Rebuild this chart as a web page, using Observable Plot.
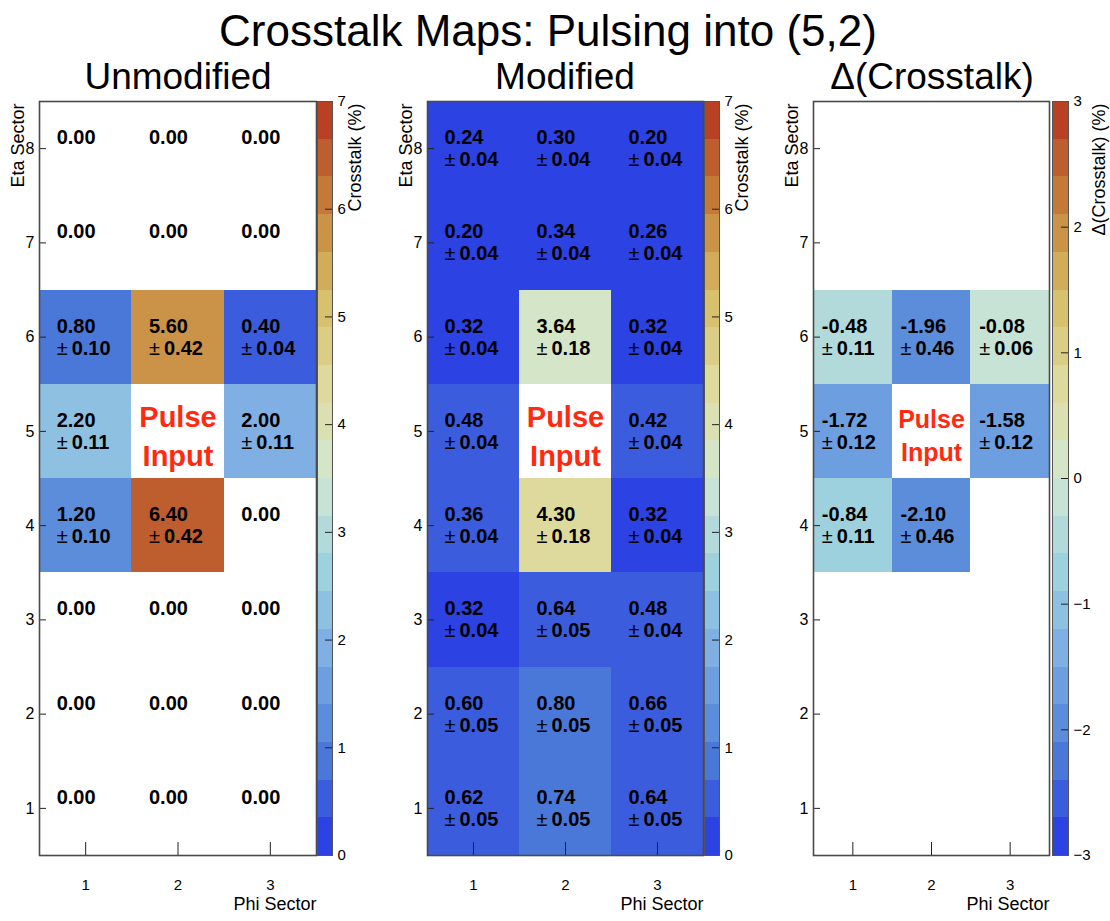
<!DOCTYPE html>
<html><head><meta charset="utf-8">
<script src="https://cdn.jsdelivr.net/npm/d3@7"></script>
<script src="https://cdn.jsdelivr.net/npm/@observablehq/plot@0.6"></script>
<style>
body{margin:0;background:#fff;}
#root{position:relative;width:1110px;height:921px;overflow:hidden;font-family:"Liberation Sans",Arial,sans-serif;color:#000;}
.t{position:absolute;white-space:nowrap;transform:translate(-50%,-50%);line-height:1;}
.abs{position:absolute;}
</style></head><body><div id="root"></div>
<script>
// ---- data ----
const etaSectors = [1, 2, 3, 4, 5, 6, 7, 8];
const phiSectors = [1, 2, 3];
// rows: eta 1..8 ; columns: phi 1..3 ; null = pulse input cell (5,2)
const unmodifiedValues = [[0,0,0],[0,0,0],[0,0,0],[1.20,6.40,0],[2.20,null,2.00],[0.80,5.60,0.40],[0,0,0],[0,0,0]];
const unmodifiedErrors = [[0,0,0],[0,0,0],[0,0,0],[0.10,0.42,0],[0.11,null,0.11],[0.10,0.42,0.04],[0,0,0],[0,0,0]];
const modifiedValues = [[0.62,0.74,0.64],[0.60,0.80,0.66],[0.32,0.64,0.48],[0.36,4.30,0.32],[0.48,null,0.42],[0.32,3.64,0.32],[0.20,0.34,0.26],[0.24,0.30,0.20]];
const modifiedErrors = [[0.05,0.05,0.05],[0.05,0.05,0.05],[0.04,0.05,0.04],[0.04,0.18,0.04],[0.04,null,0.04],[0.04,0.18,0.04],[0.04,0.04,0.04],[0.04,0.04,0.04]];
const deltaValues = [[0,0,0],[0,0,0],[0,0,0],[-0.84,-2.10,0],[-1.72,null,-1.58],[-0.48,-1.96,-0.08],[0,0,0],[0,0,0]];
const deltaErrors = [[0,0,0],[0,0,0],[0,0,0],[0.11,0.46,0],[0.12,null,0.12],[0.11,0.46,0.06],[0,0,0],[0,0,0]];
const crosstalkTicks = [0, 1, 2, 3, 4, 5, 6, 7];
const deltaTicks = [-3, -2, -1, 0, 1, 2, 3];
const paletteStops = ["rgb(44,66,226)","rgb(80,130,215)","rgb(123,171,228)","rgb(160,211,222)","rgb(210,231,210)","rgb(222,220,160)","rgb(214,190,105)","rgb(199,132,60)","rgb(183,65,34)"];
const nContours = 20;
const mainTitle = "Crosstalk Maps: Pulsing into (5,2)";
const panelTitles = ["Unmodified", "Modified", "Δ(Crosstalk)"];
const xLabel = "Phi Sector", yLabel = "Eta Sector";
const colorLabels = ["Crosstalk (%)", "Crosstalk (%)", "Δ(Crosstalk) (%)"];

// ---- layout ----
const FONT = '"Liberation Sans", Arial, sans-serif';
const FRAME_TOP = 101, FRAME_BOTTOM = 855;
const root = document.getElementById("root");
function addText(txt, x, y, size) {
  const d = document.createElement("div");
  d.className = "t"; d.textContent = txt;
  d.style.left = x + "px"; d.style.top = y + "px"; d.style.fontSize = size + "px";
  root.appendChild(d);
}
addText(mainTitle, 548, 31, 44);
const intFormat = d => (d < 0 ? "\u2212" + (-d) : String(d));

const panels = [
  {title: panelTitles[0], titleX: 178, values: unmodifiedValues, errors: unmodifiedErrors, showZeros: true,
   range: [0, 7], ticks: crosstalkTicks, frameLeft: 39, frameRight: 316, cbLeft: 317, cbWidth: 15,
   textDx: -29, pulseSize: 29, pulseDy: [-14, 25], cbLabel: colorLabels[0], cbLabelDx: 16},
  {title: panelTitles[1], titleX: 565, values: modifiedValues, errors: modifiedErrors, showZeros: true,
   range: [0, 7], ticks: crosstalkTicks, frameLeft: 427, frameRight: 703, cbLeft: 704, cbWidth: 15,
   textDx: -29, pulseSize: 29, pulseDy: [-14, 25], cbLabel: colorLabels[1], cbLabelDx: 16},
  {title: panelTitles[2], titleX: 932, values: deltaValues, errors: deltaErrors, showZeros: false,
   range: [-3, 3], ticks: deltaTicks, frameLeft: 813, frameRight: 1049, cbLeft: 1052, cbWidth: 16,
   textDx: -31, pulseSize: 25, pulseDy: [-11, 22], cbLabel: colorLabels[2], cbLabelDx: 24}
];

function toCells(values, errors) {
  const out = [];
  values.forEach((row, i) => row.forEach((v, j) => out.push({
    eta: etaSectors[i], phi: phiSectors[j], value: v, error: errors[i][j], pulse: v === null
  })));
  return out;
}

const interp = d3.piecewise(d3.interpolateRgb, paletteStops);
const bandColors = d3.range(nContours).map(i => interp(i / (nContours - 1)));

for (const cfg of panels) {
  addText(cfg.title, cfg.titleX, 76, 37);
  const cells = toCells(cfg.values, cfg.errors);
  const filled = cells.filter(d => !d.pulse && d.value !== 0);
  const texted = cells.filter(d => !d.pulse && (d.value !== 0 || cfg.showZeros));
  const withErr = texted.filter(d => d.value !== 0);
  const pulse = cells.filter(d => d.pulse);
  const [lo, hi] = cfg.range;
  const thresholds = d3.range(1, nContours).map(i => lo + (hi - lo) * i / nContours);
  const color = {type: "threshold", domain: thresholds, range: bandColors};
  const fw = cfg.frameRight - cfg.frameLeft, fh = FRAME_BOTTOM - FRAME_TOP;
  const mL = 42, mT = 10, mB = 66;
  const style = {fontFamily: FONT, color: "#000", background: "none", overflow: "visible"};

  const heat = Plot.plot({
    width: mL + fw, height: mT + fh + mB,
    marginLeft: mL, marginRight: 0, marginTop: mT, marginBottom: mB,
    x: {domain: [0.5, 3.5]}, y: {domain: [0.5, 8.5]},
    color, style,
    marks: [
      Plot.rect(filled, {x1: d => d.phi - 0.5, x2: d => d.phi + 0.5, y1: d => d.eta - 0.5, y2: d => d.eta + 0.5,
        fill: "value", inset: 0, shapeRendering: "crispEdges"}),
      Plot.tickX(phiSectors, {x: d => d, stroke: "#222", insetTop: fh - 13}),
      Plot.tickY(etaSectors, {y: d => d, stroke: "#222", insetRight: fw - 7}),
      Plot.frame({stroke: "#4a4a4a", strokeWidth: 1.6}),
      Plot.axisX({ticks: phiSectors, tickFormat: intFormat, tickSize: 0, tickPadding: 24, fontSize: 15, label: null}),
      Plot.axisY({ticks: etaSectors, tickFormat: intFormat, tickSize: 0, tickPadding: 5, fontSize: 16, label: null}),
      Plot.text(texted, {x: "phi", y: "eta", text: d => d.value.toFixed(2), dx: cfg.textDx, dy: -11,
        textAnchor: "start", fontSize: 20, fontWeight: "bold", fill: "#000"}),
      Plot.text(withErr, {x: "phi", y: "eta", text: () => "±", dx: cfg.textDx, dy: 11,
        textAnchor: "start", fontSize: 20, fill: "#000"}),
      Plot.text(withErr, {x: "phi", y: "eta", text: d => d.error.toFixed(2), dx: cfg.textDx + 15, dy: 11,
        textAnchor: "start", fontSize: 20, fontWeight: "bold", fill: "#000"}),
      Plot.text(pulse, {x: "phi", y: "eta", text: () => "Pulse", dy: cfg.pulseDy[0],
        fontSize: cfg.pulseSize, fontWeight: "bold", fill: "#ff2a10"}),
      Plot.text(pulse, {x: "phi", y: "eta", text: () => "Input", dy: cfg.pulseDy[1],
        fontSize: cfg.pulseSize, fontWeight: "bold", fill: "#ff2a10"}),
      Plot.text([yLabel], {frameAnchor: "top-left", rotate: -90, textAnchor: "end", dx: -28, dy: 2, fontSize: 18, fill: "#000"}),
      Plot.text([xLabel], {frameAnchor: "bottom-right", textAnchor: "end", dy: 54, fontSize: 18, fill: "#000"})
    ]
  });
  heat.classList.add("abs");
  heat.style.left = (cfg.frameLeft - mL) + "px";
  heat.style.top = (FRAME_TOP - mT) + "px";
  root.appendChild(heat);

  const bands = d3.range(nContours).map(i => ({lo: lo + (hi - lo) * i / nContours, hi: lo + (hi - lo) * (i + 1) / nContours}));
  const mR = 45;
  const bar = Plot.plot({
    width: cfg.cbWidth + mR, height: mT + fh + mB,
    marginLeft: 0, marginRight: mR, marginTop: mT, marginBottom: mB,
    y: {domain: [lo, hi]}, color, style,
    marks: [
      Plot.rect(bands, {y1: "lo", y2: "hi", fill: d => (d.lo + d.hi) / 2, inset: 0, shapeRendering: "crispEdges"}),
      Plot.tickY(cfg.ticks, {y: d => d, stroke: "#222", insetLeft: cfg.cbWidth - 7}),
      Plot.frame({stroke: "#555", strokeWidth: 1}),
      Plot.axisY({anchor: "right", ticks: cfg.ticks, tickFormat: intFormat, tickSize: 0, tickPadding: 5, fontSize: 15, label: null}),
      Plot.text([cfg.cbLabel], {frameAnchor: "top-right", rotate: -90, textAnchor: "end", dx: cfg.cbLabelDx, dy: 2, fontSize: 18, fill: "#000"})
    ]
  });
  bar.classList.add("abs");
  bar.style.left = cfg.cbLeft + "px";
  bar.style.top = (FRAME_TOP - mT) + "px";
  root.appendChild(bar);
}
</script></body></html>
